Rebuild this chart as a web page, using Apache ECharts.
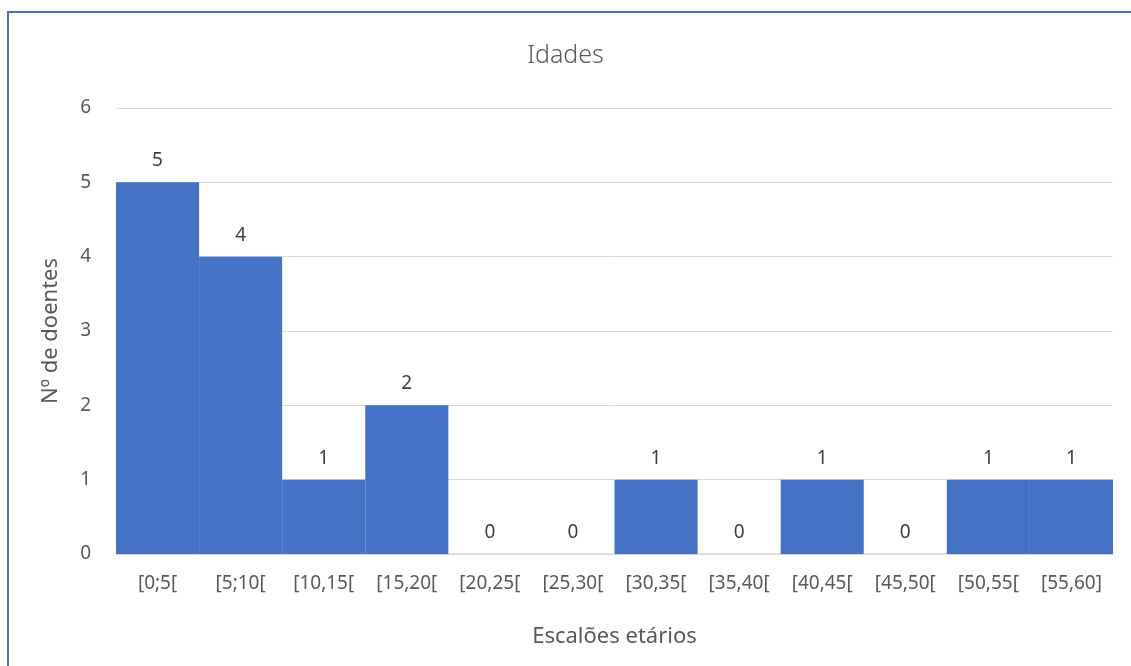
<!DOCTYPE html>
<html>
<head>
<meta charset="utf-8">
<script src="https://cdn.jsdelivr.net/npm/echarts@6/dist/echarts.min.js"></script>
<style>
  html, body { margin: 0; padding: 0; background: #fff; }
  #chart { width: 1131px; height: 666px; }
</style>
</head>
<body>
<div id="chart"></div>
<script>
// dados do gráfico
const escaloes = ['[0;5[', '[5;10[', '[10,15[', '[15,20[', '[20,25[', '[25,30[',
  '[30,35[', '[35,40[', '[40,45[', '[45,50[', '[50,55[', '[55,60]'];
const doentes = [5, 4, 1, 2, 0, 0, 1, 0, 1, 0, 1, 1];
const yTicks = [0, 1, 2, 3, 4, 5, 6];

const myChart = echarts.init(document.getElementById('chart'));
const fonte = '"Noto Sans", "Open Sans", sans-serif';

const option = {
  animation: false,
  title: {
    text: 'Idades',
    left: 'center',
    top: 38,
    textStyle: { fontFamily: fonte, fontWeight: 300, fontSize: 25, color: '#595959' }
  },
  graphic: [{
    type: 'rect',
    shape: { x: 8, y: 12, width: 1140, height: 700 },
    style: { fill: 'none', stroke: '#4472c4', lineWidth: 2 },
    silent: true
  }],
  grid: { left: 116, right: 18, top: 108, bottom: 112 },
  xAxis: {
    type: 'category',
    data: escaloes,
    name: 'Escalões etários',
    nameLocation: 'middle',
    nameGap: 72,
    nameTextStyle: { fontFamily: fonte, fontSize: 22, color: '#595959' },
    axisLine: { lineStyle: { color: '#d9d9d9', width: 1.5 } },
    axisTick: { show: false },
    axisLabel: { fontFamily: fonte, fontSize: 19, color: '#595959', margin: 20 }
  },
  yAxis: {
    type: 'value',
    min: yTicks[0],
    max: yTicks[yTicks.length - 1],
    interval: 1,
    name: 'Nº de doentes',
    nameLocation: 'middle',
    nameGap: 54,
    nameTextStyle: { fontFamily: fonte, fontSize: 22, color: '#595959' },
    axisLine: { show: false },
    axisTick: { show: false },
    splitLine: { lineStyle: { color: '#d9d9d9', width: 1 } },
    axisLabel: { fontFamily: fonte, fontSize: 19, color: '#595959', margin: 25 }
  },
  series: [{
    type: 'bar',
    data: doentes,
    barCategoryGap: 0,
    itemStyle: { color: '#4472c4' },
    label: {
      show: true,
      position: 'top',
      distance: 12,
      fontFamily: fonte,
      fontSize: 19,
      color: '#404040'
    }
  }]
};

option && myChart.setOption(option);
</script>
</body>
</html>
